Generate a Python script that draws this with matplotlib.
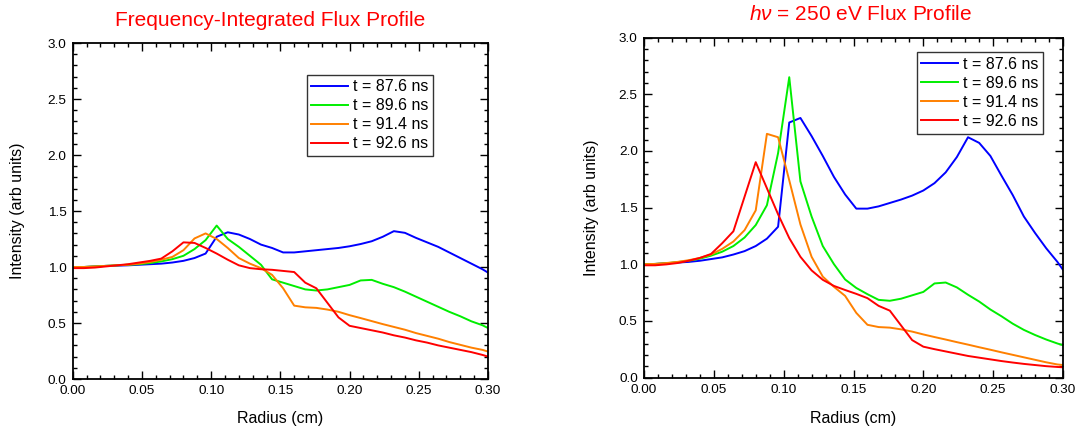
import matplotlib
matplotlib.use("Agg")
import matplotlib.pyplot as plt
from matplotlib.ticker import MultipleLocator, FormatStrFormatter

plt.rcParams["font.family"] = ["Liberation Sans", "DejaVu Sans"]
plt.rcParams["mathtext.fontset"] = "custom"
plt.rcParams["mathtext.it"] = "Liberation Sans:italic"
plt.rcParams["mathtext.rm"] = "Liberation Sans"

radius = [0.000, 0.008, 0.016, 0.024, 0.032, 0.040, 0.048, 0.056, 0.064, 0.072,
          0.080, 0.088, 0.096, 0.104, 0.112, 0.120, 0.128, 0.136, 0.144, 0.152,
          0.160, 0.168, 0.176, 0.184, 0.192, 0.200, 0.208, 0.216, 0.224, 0.232,
          0.240, 0.248, 0.256, 0.264, 0.272, 0.280, 0.288, 0.296, 0.300]

labels = ["t = 87.6 ns", "t = 89.6 ns", "t = 91.4 ns", "t = 92.6 ns"]
colors = ["#0000ff", "#00ee00", "#ff8000", "#ff0000"]

# Frequency-integrated flux
fi_876 = [1.00, 1.00, 1.005, 1.01, 1.012, 1.015, 1.02, 1.025, 1.03, 1.04,
          1.055, 1.08, 1.12, 1.27, 1.31, 1.29, 1.25, 1.20, 1.17, 1.13,
          1.13, 1.14, 1.15, 1.16, 1.17, 1.185, 1.205, 1.23, 1.27, 1.32,
          1.305, 1.26, 1.22, 1.18, 1.13, 1.08, 1.03, 0.98, 0.95]
fi_896 = [1.00, 1.00, 1.005, 1.01, 1.015, 1.02, 1.025, 1.035, 1.05, 1.07,
          1.10, 1.16, 1.24, 1.37, 1.25, 1.18, 1.10, 1.02, 0.89, 0.86,
          0.83, 0.80, 0.79, 0.80, 0.82, 0.84, 0.88, 0.885, 0.85, 0.82,
          0.78, 0.735, 0.69, 0.645, 0.60, 0.56, 0.515, 0.48, 0.455]
fi_914 = [1.00, 1.00, 1.005, 1.01, 1.015, 1.02, 1.03, 1.045, 1.065, 1.09,
          1.15, 1.255, 1.30, 1.25, 1.17, 1.08, 1.03, 0.99, 0.93, 0.81,
          0.655, 0.64, 0.635, 0.62, 0.60, 0.57, 0.544, 0.517, 0.49, 0.465,
          0.44, 0.41, 0.385, 0.36, 0.33, 0.305, 0.28, 0.26, 0.245]
fi_926 = [0.99, 0.99, 0.995, 1.005, 1.015, 1.025, 1.04, 1.055, 1.075, 1.14,
          1.22, 1.215, 1.17, 1.12, 1.065, 1.015, 0.99, 0.98, 0.975, 0.965,
          0.955, 0.86, 0.81, 0.68, 0.55, 0.475, 0.455, 0.435, 0.415, 0.39,
          0.37, 0.345, 0.325, 0.30, 0.28, 0.26, 0.24, 0.215, 0.20]

# 250 eV flux
ev_876 = [1.00, 1.002, 1.008, 1.014, 1.02, 1.03, 1.045, 1.06, 1.085, 1.115,
          1.16, 1.225, 1.33, 2.25, 2.29, 2.13, 1.955, 1.77, 1.615, 1.49,
          1.49, 1.51, 1.54, 1.57, 1.605, 1.65, 1.715, 1.81, 1.945, 2.12,
          2.07, 1.955, 1.78, 1.61, 1.42, 1.275, 1.14, 1.02, 0.95]
ev_896 = [1.00, 1.002, 1.008, 1.018, 1.03, 1.048, 1.075, 1.11, 1.16, 1.235,
          1.345, 1.52, 1.98, 2.65, 1.73, 1.42, 1.16, 1.00, 0.865, 0.79,
          0.735, 0.685, 0.677, 0.695, 0.725, 0.755, 0.83, 0.838, 0.795, 0.73,
          0.67, 0.60, 0.54, 0.475, 0.42, 0.375, 0.335, 0.30, 0.285]
ev_914 = [1.00, 1.002, 1.01, 1.02, 1.035, 1.055, 1.085, 1.135, 1.20, 1.30,
          1.475, 2.15, 2.12, 1.74, 1.35, 1.065, 0.89, 0.80, 0.72, 0.57,
          0.465, 0.445, 0.44, 0.425, 0.405, 0.38, 0.357, 0.335, 0.312, 0.29,
          0.267, 0.245, 0.222, 0.20, 0.178, 0.156, 0.134, 0.115, 0.11]
ev_926 = [0.99, 0.99, 0.998, 1.01, 1.03, 1.055, 1.09, 1.185, 1.29, 1.595,
          1.90, 1.67, 1.44, 1.23, 1.065, 0.945, 0.862, 0.808, 0.772, 0.738,
          0.70, 0.632, 0.59, 0.46, 0.33, 0.272, 0.25, 0.23, 0.21, 0.19,
          0.175, 0.16, 0.145, 0.132, 0.12, 0.11, 0.10, 0.093, 0.09]

W, H = 1076, 428
fig = plt.figure(figsize=(W / 100, H / 100), dpi=100)


def px_axes(left, top, right, bottom):
    return fig.add_axes([left / W, 1 - bottom / H, (right - left) / W, (bottom - top) / H])


def style(ax, xpad, ypad):
    ax.set_xlim(0, 0.30)
    ax.set_ylim(0, 3.0)
    ax.xaxis.set_major_locator(MultipleLocator(0.05))
    ax.xaxis.set_minor_locator(MultipleLocator(0.01))
    ax.yaxis.set_major_locator(MultipleLocator(0.5))
    ax.yaxis.set_minor_locator(MultipleLocator(0.1))
    ax.xaxis.set_major_formatter(FormatStrFormatter("%.2f"))
    ax.yaxis.set_major_formatter(FormatStrFormatter("%.1f"))
    ax.tick_params(which="both", direction="in", top=True, right=True,
                   labelsize=9.7, width=1.0, colors="black")
    ax.tick_params(which="major", length=6, pad=4.5)
    ax.tick_params(which="minor", length=3)
    for s in ax.spines.values():
        s.set_linewidth(1.3)
    ax.set_xlabel("Radius (cm)", fontsize=11.5, labelpad=xpad)
    ax.set_ylabel("Intensity (arb units)", fontsize=11.5, labelpad=ypad)


def legend(ax, anchor):
    leg = ax.legend(loc="upper right", bbox_to_anchor=anchor, fontsize=11.5,
                    frameon=True, fancybox=False, edgecolor="black",
                    handlelength=2.3, handletextpad=0.3, labelspacing=0.25,
                    borderpad=0.3, borderaxespad=0)
    leg.get_frame().set_linewidth(1.0)


ax1 = px_axes(72.7, 43, 488, 379)
for ys, c, lab in zip([fi_876, fi_896, fi_914, fi_926], colors, labels):
    ax1.plot(radius, ys, color=c, lw=1.4, label=lab)
style(ax1, 10, 16)
legend(ax1, (0.8677, 0.9057))
fig.text(270 / W, 1 - 21 / H, "Frequency-Integrated Flux Profile", color="red",
         fontsize=15, ha="center", va="center")

ax2 = px_axes(644, 37.5, 1063, 377.5)
for ys, c, lab in zip([ev_876, ev_896, ev_914, ev_926], colors, labels):
    ax2.plot(radius, ys, color=c, lw=1.4, label=lab)
style(ax2, 11, 14.5)
legend(ax2, (0.9527, 0.9565))
fig.text(861 / W, 1 - 14 / H, r"$h\nu$ = 250 eV Flux Profile", color="red",
         fontsize=15, ha="center", va="center")

fig.savefig("out.png", dpi=100)
